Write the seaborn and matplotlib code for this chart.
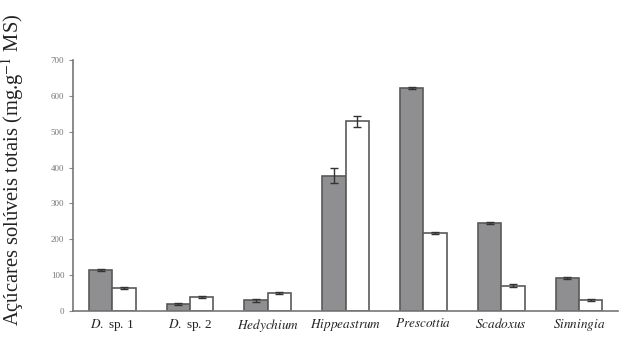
import pandas as pd
import matplotlib.pyplot as plt
import seaborn as sns

# categorias e valores
especies = ['D. sp. 1', 'D. sp. 2', 'Hedychium', 'Hippeastrum', 'Prescottia', 'Scadoxus', 'Sinningia']
rotulos = [r'$\it{D.}$ sp. 1', r'$\it{D.}$ sp. 2', r'$\it{Hedychium}$', r'$\it{Hippeastrum}$',
           r'$\it{Prescottia}$', r'$\it{Scadoxus}$', r'$\it{Sinningia}$']
cinza = [114, 20, 30, 378, 622, 245, 92]
branco = [64, 39, 50, 529, 217, 70, 30]
erro_cinza = [3, 3, 4, 22, 3, 3, 2]
erro_branco = [2, 3, 2, 16, 2, 4, 2]

df = pd.DataFrame({
    'especie': especies * 2,
    'valor': cinza + branco,
    'grupo': ['A'] * len(especies) + ['B'] * len(especies),
})

sns.set_style('white')
plt.rcParams['font.family'] = ['Liberation Serif', 'DejaVu Serif']
plt.rcParams['mathtext.fontset'] = 'stix'

fig = plt.figure(figsize=(6.21, 3.38), dpi=100)
ax = fig.add_axes([0.118, 0.08, 0.877, 0.742])

sns.barplot(data=df, x='especie', y='valor', hue='grupo', order=especies,
            palette={'A': '#8e8e92', 'B': 'white'}, width=0.6, errorbar=None,
            edgecolor='#5a5a5a', linewidth=1.2, legend=False, ax=ax)

# barras de erro sobre cada barra
erros = erro_cinza + erro_branco
vals = cinza + branco
for patch, v, e in zip(ax.patches, vals, erros):
    xc = patch.get_x() + patch.get_width() / 2
    ax.errorbar(xc, v, yerr=e, fmt='none', ecolor='#333333', elinewidth=1.0, capsize=3, capthick=1.0)

ax.set_xlim(-0.5, 6.5)
ax.set_ylim(0, 700)
ax.set_yticks(range(0, 701, 100))
ax.set_xticks(range(len(especies)))
ax.set_xticklabels(rotulos, fontsize=9.5, color='#222222')
ax.tick_params(axis='y', labelsize=6.5, colors='#888888', length=3, direction='out', left=True)
ax.tick_params(axis='x', length=0, pad=4)
for lab in ax.get_yticklabels():
    lab.set_color('#777777')

sns.despine(ax=ax)
for s in ['left', 'bottom']:
    ax.spines[s].set_color('#777777')
    ax.spines[s].set_linewidth(1.2)

ax.set_xlabel('')
ax.set_ylabel(r'Açúcares solúveis totais (mg.g$^{-1}$ MS)', fontsize=14.8, color='#222222')
ax.yaxis.set_label_coords(-0.087, 0.565)

fig.savefig('out.png', dpi=100)
